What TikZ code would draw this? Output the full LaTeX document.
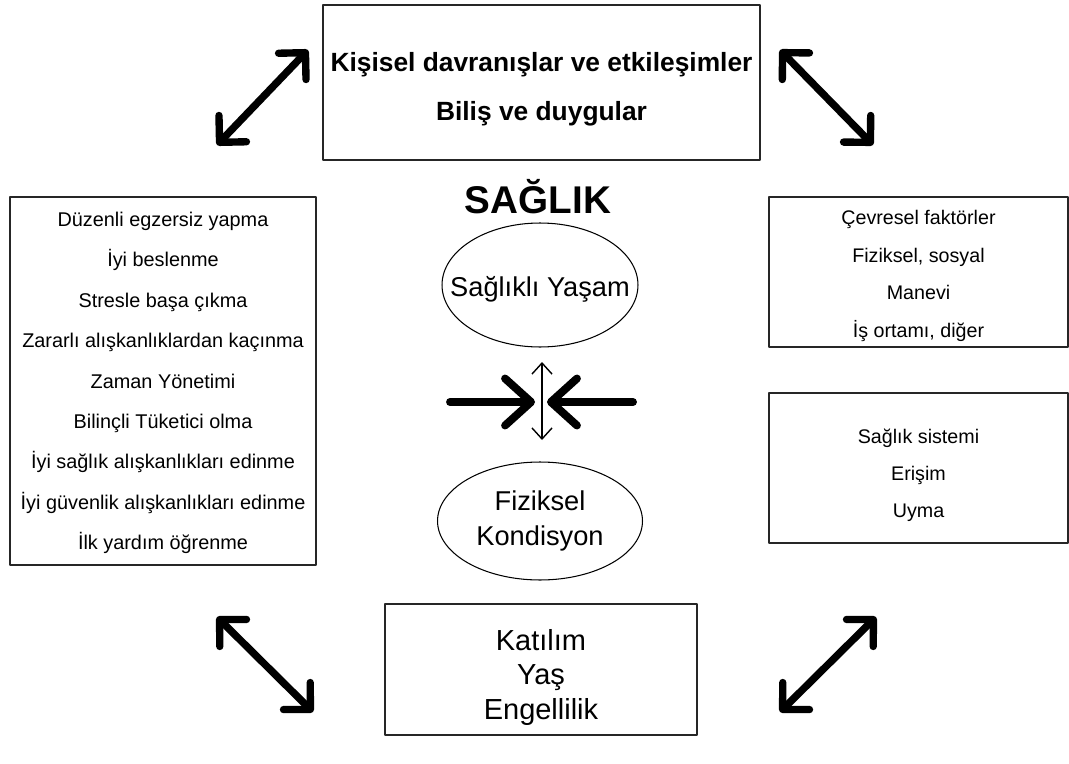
\documentclass[tikz,border=0pt]{standalone}
\usepackage{fontspec}
\setmainfont{Liberation Sans}
\usetikzlibrary{arrows.meta,shapes.geometric}
\tikzset{
  kutu/.style={draw=black!85,line width=0.8pt,inner sep=0pt},
  metin/.style={align=center,inner sep=0pt},
  elips/.style={draw,ellipse,line width=0.6pt,inner sep=0pt},
  okcift/.style={{Straight Barb[round,length=3.8mm,width=7.6mm]}-{Straight Barb[round,length=3.8mm,width=7.6mm]},line width=4.2pt,line cap=round},
  okkalin/.style={-{Straight Barb[round,length=5.2mm,width=9.4mm]},line width=4.5pt,line cap=round},
  okince/.style={{Straight Barb[length=2.2mm,width=4mm]}-{Straight Barb[length=2.2mm,width=4mm]},line width=0.8pt}
}
\begin{document}
\begin{tikzpicture}[x=0.02cm,y=-0.02cm,line join=round]
            \useasboundingbox (0,0) rectangle (1069,764);
            %Kutular
            \node[kutu,minimum width=8.74cm,minimum height=3.1cm] (ust) at (541.5,82.5) {};
            \node[kutu,minimum width=6.12cm,minimum height=7.36cm] (sol) at (163,381) {};
            \node[kutu,minimum width=5.98cm,minimum height=3cm] (cevre) at (918.5,272) {};
            \node[kutu,minimum width=5.98cm,minimum height=3cm] (sistem) at (918.5,468) {};
            \node[kutu,minimum width=6.24cm,minimum height=2.62cm] (alt) at (541,669.5) {};
            %Kutu yazilari
            \node[metin,font=\bfseries\fontsize{15}{27.9}\selectfont] (ustm) at ([yshift=-0.14cm]ust) {Kişisel davranışlar ve etkileşimler\\Biliş ve duygular};
            \node[metin,font=\fontsize{11.3}{23}\selectfont] (solm) at ([yshift=-0.04cm]sol) {Düzenli egzersiz yapma\\İyi beslenme\\Stresle başa çıkma\\Zararlı alışkanlıklardan kaçınma\\Zaman Yönetimi\\Bilinçli Tüketici olma\\İyi sağlık alışkanlıkları edinme\\İyi güvenlik alışkanlıkları edinme\\İlk yardım öğrenme};
            \node[metin,font=\fontsize{11.2}{21.3}\selectfont] (cevrem) at ([yshift=-0.08cm]cevre) {Çevresel faktörler\\Fiziksel, sosyal\\Manevi\\İş ortamı, diğer};
            \node[metin,font=\fontsize{11.2}{21}\selectfont] (sistemm) at ([yshift=-0.14cm]sistem) {Sağlık sistemi\\Erişim\\Uyma};
            \node[metin,font=\fontsize{16.5}{19.5}\selectfont] (altm) at ([yshift=-0.16cm]alt) {Katılım\\Yaş\\Engellilik};
            %Orta kisim
            \node[font=\bfseries\fontsize{22}{26}\selectfont] (saglik) at (538,197) {SAĞLIK};
            \node[elips,minimum width=3.92cm,minimum height=2.48cm] (yasam) at (540,285) {};
            \node[elips,minimum width=4.1cm,minimum height=2.36cm] (kondisyon) at (540,521) {};
            \node[metin,font=\fontsize{15.5}{18}\selectfont] (yasamm) at ([yshift=-0.08cm]yasam) {Sağlıklı Yaşam};
            \node[metin,font=\fontsize{15.5}{19.8}\selectfont] (kondisyonm) at (kondisyon) {Fiziksel\\Kondisyon};
            %Kose oklari
            \coordinate (a1) at (217,145); \coordinate (a2) at (308,50);
            \coordinate (b1) at (780,50);  \coordinate (b2) at (873,145);
            \coordinate (c1) at (217,617); \coordinate (c2) at (313,712);
            \coordinate (d1) at (780,712); \coordinate (d2) at (876,617);
            \foreach \p/\q in {a1/a2,b1/b2,c1/c2,d1/d2} \draw[okcift] (\p)--(\q);
            %Ortadaki oklar
            \coordinate (sol1) at (450,402); \coordinate (sol2) at (535,402);
            \coordinate (sag1) at (633,402); \coordinate (sag2) at (547,402);
            \coordinate (dik1) at (542,362); \coordinate (dik2) at (542,440);
            \draw[okkalin] (sol1)--(sol2);
            \draw[okkalin] (sag1)--(sag2);
            \draw[okince] (dik1)--(dik2);
\end{tikzpicture}
\end{document}
